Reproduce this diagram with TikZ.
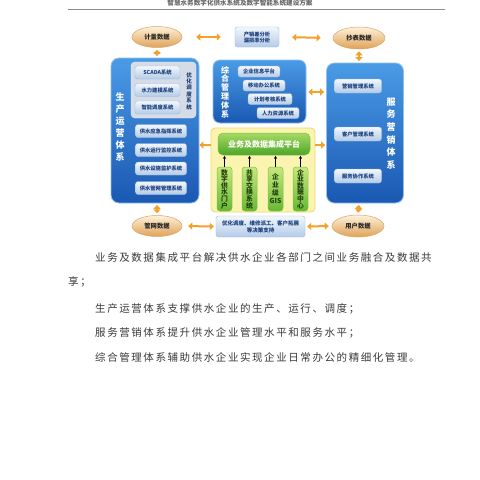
\documentclass[tikz,border=0pt]{standalone}
\usepackage{fontspec}
\usetikzlibrary{shapes.geometric,arrows.meta}
\newfontfamily\cjk{Noto Sans CJK SC}
\newfontfamily\cjkbody[LetterSpace=15]{Noto Sans CJK SC}
\definecolor{orangeA}{HTML}{F5A028}
\definecolor{blueTop}{HTML}{4A9BE6}
\definecolor{blueBot}{HTML}{1A58B2}
\definecolor{blueEdge}{HTML}{8CC0F0}
\definecolor{btnTop}{HTML}{F2F7FC}
\definecolor{btnBot}{HTML}{B3CBE8}
\definecolor{btnEdge}{HTML}{9DBADF}
\definecolor{btnText}{HTML}{1B3F7C}
\definecolor{ellTop}{HTML}{FDF1DA}
\definecolor{ellBot}{HTML}{DFA257}
\definecolor{ellEdge}{HTML}{D9A466}
\definecolor{grnTop}{HTML}{A6DA62}
\definecolor{grnBot}{HTML}{4DA52A}
\definecolor{grnEdge}{HTML}{7DC04A}
\definecolor{grnTop2}{HTML}{C6E87C}
\definecolor{grnBot2}{HTML}{66B834}
\definecolor{grnText}{HTML}{22400E}
\definecolor{yelFill}{HTML}{FBF4B0}
\definecolor{yelEdge}{HTML}{EBD968}
\definecolor{grayBox}{HTML}{D5DCE6}
\definecolor{bodyText}{HTML}{3A3A3A}
\tikzset{
  bigblue/.style={draw=blueEdge, line width=0.8pt, rounded corners=8pt, top color=blueTop, bottom color=blueBot},
  sysbtn/.style={draw=btnEdge, line width=0.4pt, rounded corners=2.5pt, top color=btnTop, bottom color=btnBot,
     text=btnText, font=\cjk\bfseries\fontsize{5.3}{6}\selectfont, inner sep=0pt, align=center},
  datell/.style={ellipse, draw=ellEdge, line width=0.5pt, top color=ellTop, bottom color=ellBot,
     text=black!85, font=\cjk\bfseries\fontsize{6.3}{7}\selectfont, inner sep=0pt, minimum width=50, minimum height=21},
  vlabel/.style={text=white, font=\cjk\bfseries\fontsize{9}{12}\selectfont, align=center, inner sep=0pt},
  grnbox/.style={draw=grnEdge, line width=0.5pt, rounded corners=3pt, top color=grnTop, bottom color=grnBot,
     text=white, inner sep=0pt, align=center},
  grncol/.style={draw=grnEdge, line width=0.5pt, rounded corners=3pt, top color=grnTop2, bottom color=grnBot2,
     text=grnText, inner sep=0pt, align=center, minimum width=15, minimum height=44,
     font=\cjk\bfseries\fontsize{6.8}{6.6}\selectfont},
  oarr/.style={draw=orangeA, line width=2pt, arrows={Triangle[length=4pt,width=7pt]-Triangle[length=4pt,width=7pt]}},
  oarrone/.style={draw=orangeA, line width=2pt, arrows={-Triangle[length=4pt,width=7pt]}},
  uparr/.style={draw=black, line width=0.6pt, arrows={-Stealth[length=3pt,width=3pt]}},
  bodyline/.style={anchor=west, inner sep=0pt, text=bodyText, font=\cjkbody\fontsize{10.5}{12}\selectfont}
}
\begin{document}
\begin{tikzpicture}[x=1pt,y=-1pt]
\useasboundingbox (0,0) rectangle (480,480);
\fill[white] (0,0) rectangle (480,480);

% header
\node[inner sep=0pt, text=black!60, font=\cjk\bfseries\fontsize{6.6}{7}\selectfont] (hdr) at (240,3) {智慧水务数字化供水系统及数字智能系统建设方案};
\coordinate (hl) at (68,9.5);
\coordinate (hr) at (445,9.5);
\draw[black!45, line width=0.5pt] (hl) -- (hr);

% top row
\node[datell] (jl) at (157,37) {计量数据};
\node[sysbtn, minimum width=44, minimum height=20] (cx) at (257,37) {产销差分析\\漏损率分析};
\node[datell, minimum width=52, minimum height=22] (cb) at (359,38) {抄表数据};

% left big box
\node[bigblue, minimum width=88, minimum height=145] (left) at (155,130.5) {};
\node[draw=white!70!grayBox, fill=grayBox, rounded corners=4pt, minimum width=65, minimum height=56, inner sep=0pt] (opt) at (163.5,90) {};
\node[sysbtn, minimum width=45, minimum height=13] (scada) at (157.5,72.5) {SCADA系统};
\node[sysbtn, minimum width=45, minimum height=13] (slj) at (157.5,90) {水力建模系统};
\node[sysbtn, minimum width=45, minimum height=13] (zn) at (157.5,107.5) {智能调度系统};
\node[text=btnText, font=\cjk\bfseries\fontsize{5.5}{6.4}\selectfont, align=center, inner sep=0pt] (optl) at (189,91) {优\\化\\调\\度\\系\\统};
\node[vlabel] (scl) at (120,127) {生\\产\\运\\营\\体\\系};
\node[sysbtn, minimum width=51, minimum height=13] (l1) at (161,131) {供水应急指挥系统};
\node[sysbtn, minimum width=51, minimum height=13] (l2) at (161,150) {供水运行监控系统};
\node[sysbtn, minimum width=51, minimum height=13] (l3) at (161,168.5) {供水设施监护系统};
\node[sysbtn, minimum width=51, minimum height=13] (l4) at (161,188) {供水管网管理系统};

% middle top box
\node[bigblue, rounded corners=7pt, minimum width=93, minimum height=63] (mid) at (259.5,91.5) {};
\node[vlabel, font=\cjk\bfseries\fontsize{8}{8.8}\selectfont] (zhl) at (225,92) {综\\合\\管\\理\\体\\系};
\node[sysbtn, minimum width=42, minimum height=11] (m1) at (259,71.5) {企业信息平台};
\node[sysbtn, minimum width=42, minimum height=11] (m2) at (264,85.5) {移动办公系统};
\node[sysbtn, minimum width=44, minimum height=11] (m3) at (270,99) {计划考核系统};
\node[sysbtn, minimum width=42, minimum height=11] (m4) at (278,113) {人力资源系统};

% right big box
\node[bigblue, minimum width=77, minimum height=140] (right) at (365,133) {};
\node[sysbtn, minimum width=47, minimum height=14] (r1) at (358,86) {营销管理系统};
\node[sysbtn, minimum width=47, minimum height=14] (r2) at (358,134) {客户管理系统};
\node[sysbtn, minimum width=47, minimum height=14] (r3) at (358,176) {服务协作系统};
\node[vlabel, font=\cjk\bfseries\fontsize{9}{12.6}\selectfont] (fwl) at (391,133.5) {服\\务\\营\\销\\体\\系};

% yellow platform
\node[draw=yelEdge, line width=0.8pt, fill=yelFill, rounded corners=4pt, minimum width=104, minimum height=84, inner sep=0pt] (plat) at (263,170) {};
\node[grnbox, rounded corners=5pt, minimum width=92, minimum height=22, font=\cjk\bfseries\fontsize{8}{9}\selectfont] (ph) at (264,144) {业务及数据集成平台};
\node[grncol] (g1) at (224.5,189) {数\\字\\供\\水\\门\\户};
\node[grncol] (g2) at (249.5,189) {共\\享\\交\\换\\系\\统};
\node[grncol, font=\cjk\bfseries\fontsize{6.8}{8}\selectfont] (g3) at (275.5,189) {企\\业\\级\\GIS};
\node[grncol] (g4) at (300.5,189) {企\\业\\数\\据\\中\\心};
\foreach \g in {g1,g2,g3,g4} {
  \draw[uparr, shorten >=0.5pt] (\g.north) -- (\g.north |- ph.south);
}

% bottom row
\node[datell] (gw) at (157,226) {管网数据};
\node[sysbtn, minimum width=89, minimum height=21, font=\cjk\bfseries\fontsize{5.5}{7}\selectfont] (yh) at (260.5,226.5) {优化调度、维修派工、客户拓展\\等决策支持};
\node[datell, minimum width=52, minimum height=22] (yd) at (358,226) {用户数据};

% orange arrows
\draw[oarr, shorten <=14pt, shorten >=14pt] (jl.east) -- (cx.west);
\draw[oarr, shorten <=13pt, shorten >=12pt] (cx.east) -- (cb.west);
\draw[oarr, shorten <=2pt, shorten >=1.5pt] (jl.south) -- (jl.south |- left.north);
\draw[oarr, shorten <=2pt, shorten >=1.5pt] (cb.south) -- (cb.south |- right.north);
\draw[oarr, shorten <=2pt, shorten >=2pt] (mid.east |- 0,92) -- (right.west |- 0,92);
\draw[oarrone] (plat.west |- 0,145) -- (left.east |- 0,145);
\draw[oarrone, shorten >=1pt] (plat.east |- 0,145) -- (right.west |- 0,145);
\draw[oarr, shorten <=1.5pt, shorten >=2pt] (left.south -| jl.south) -- (gw.north);
\draw[oarr, shorten <=1.5pt, shorten >=2pt] (right.south -| cb.south) -- (yd.north);
\draw[oarr, shorten <=6pt, shorten >=2pt] (gw.east) -- (yh.west);
\draw[oarr, shorten <=2pt, shorten >=3pt] (yh.east) -- (yd.west);

% body text
\node[bodyline] (t1) at (95,257) {业务及数据集成平台解决供水企业各部门之间业务融合及数据共};
\node[bodyline] (t2) at (68,282) {享；};
\node[bodyline] (t3) at (95,309) {生产运营体系支撑供水企业的生产、运行、调度；};
\node[bodyline] (t4) at (95,333) {服务营销体系提升供水企业管理水平和服务水平；};
\node[bodyline] (t5) at (95,357) {综合管理体系辅助供水企业实现企业日常办公的精细化管理。};
\end{tikzpicture}
\end{document}
